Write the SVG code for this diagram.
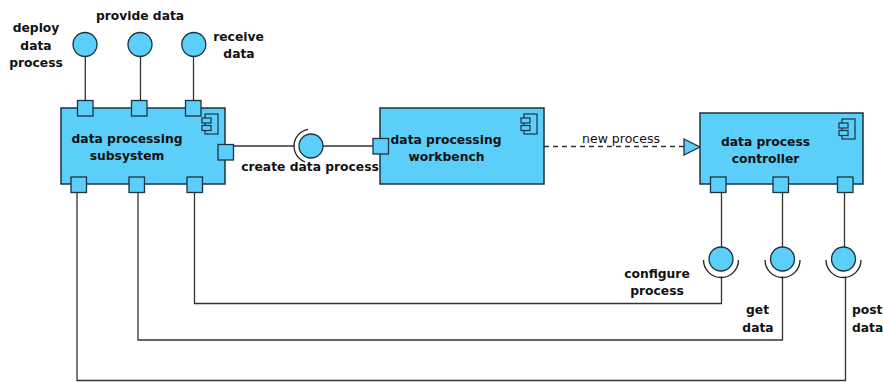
<svg xmlns="http://www.w3.org/2000/svg" width="883" height="382" viewBox="0 0 883 382">
<style>
.box{fill:#5bcefa;stroke:#1c3340;stroke-width:1.5}
.port{fill:#5bcefa;stroke:#1c3340;stroke-width:1.3}
.ico{fill:#5bcefa;stroke:#1c3340;stroke-width:1.2}
.ball{fill:#5bcefa;stroke:#1c3340;stroke-width:1.3}
.sock{fill:none;stroke:#222;stroke-width:1.3}
.ln{fill:none;stroke:#333;stroke-width:1.3}
.t{font-family:"DejaVu Sans",Verdana,sans-serif;font-size:12.3px;font-weight:bold;fill:#111;text-anchor:middle}
.n{font-family:"DejaVu Sans",Verdana,sans-serif;font-size:12.5px;fill:#111;text-anchor:middle}
</style>
<defs>
<g id="icon">
<rect class="ico" x="3" y="0" width="13" height="20"/>
<rect class="ico" x="0" y="4" width="9" height="5"/>
<rect class="ico" x="0" y="11.5" width="9" height="5"/>
</g>
</defs>
<g id="connectors">
<line class="ln" x1="85.3" y1="56.5" x2="85.3" y2="100"/>
<line class="ln" x1="140.5" y1="56.5" x2="140.5" y2="100"/>
<line class="ln" x1="193.5" y1="56.5" x2="193.5" y2="100"/>
<line class="ln" x1="233" y1="146" x2="294" y2="146"/>
<line class="ln" x1="323" y1="146" x2="373" y2="146"/>
<path class="ln" d="M544,146.5 H684" stroke-dasharray="5,4"/>
<polygon points="684,139 700,147 684,155" fill="#5bcefa" stroke="#1c3340" stroke-width="1.3"/>
<text class="n" x="621" y="143">new process</text>
<line class="ln" x1="721.5" y1="193" x2="721.5" y2="247"/>
<line class="ln" x1="782.5" y1="193" x2="782.5" y2="247"/>
<line class="ln" x1="844.5" y1="193" x2="844.5" y2="247"/>
<path class="ln" d="M194.5,193 V303.5 H721.5 V276.5"/>
<path class="ln" d="M138,193 V340 H782.5 V276.5"/>
<path class="ln" d="M77,193 V380.5 H845.5 V276.5"/>
</g>
<g id="deploy-data-process">
<circle class="ball" cx="85" cy="44.5" r="12"/>
<text class="t" x="36" y="32">deploy</text>
<text class="t" x="36" y="49.5">data</text>
<text class="t" x="36" y="66.5">process</text>
</g>
<g id="provide-data">
<circle class="ball" cx="140" cy="44.5" r="12"/>
<text class="t" x="140" y="20">provide data</text>
</g>
<g id="receive-data">
<circle class="ball" cx="193.8" cy="44.5" r="12"/>
<text class="t" x="238.5" y="41">receive</text>
<text class="t" x="239" y="58.3">data</text>
</g>
<g id="data-processing-subsystem">
<rect class="box" x="61" y="108" width="164" height="76"/>
<use href="#icon" x="202" y="114"/>
<rect class="port" x="77.5" y="100.5" width="15.5" height="15.5"/>
<rect class="port" x="131.5" y="100.5" width="15.5" height="15.5"/>
<rect class="port" x="185.5" y="100.5" width="15.5" height="15.5"/>
<rect class="port" x="218" y="144.5" width="15.5" height="15.5"/>
<rect class="port" x="71" y="177" width="15.5" height="15.5"/>
<rect class="port" x="129" y="177" width="15.5" height="15.5"/>
<rect class="port" x="187" y="177" width="15.5" height="15.5"/>
<text class="t" x="127" y="143.3">data processing</text>
<text class="t" x="127" y="160">subsystem</text>
</g>
<g id="create-data-process">
<path class="sock" d="M308,129.3 A17 17 0 0 0 305.2,162"/>
<circle class="ball" cx="311" cy="146" r="12"/>
<text class="t" x="310" y="171">create data process</text>
</g>
<g id="data-processing-workbench">
<rect class="box" x="380" y="108" width="164" height="76"/>
<use href="#icon" x="521" y="114"/>
<rect class="port" x="373" y="138.5" width="15.5" height="15.5"/>
<text class="t" x="446" y="144">data processing</text>
<text class="t" x="446.5" y="161">workbench</text>
</g>
<g id="data-process-controller">
<rect class="box" x="700" y="113" width="163" height="71"/>
<use href="#icon" x="839" y="119"/>
<rect class="port" x="710.5" y="177" width="15.5" height="15.5"/>
<rect class="port" x="773" y="177" width="15.5" height="15.5"/>
<rect class="port" x="837.5" y="177" width="15.5" height="15.5"/>
<text class="t" x="765.5" y="146">data process</text>
<text class="t" x="765.5" y="163">controller</text>
</g>
<g id="configure-process">
<path class="sock" d="M703.5,260 A17.5 17.5 0 0 0 738.5,260"/>
<circle class="ball" cx="721" cy="259" r="12"/>
<text class="t" x="657" y="278">configure</text>
<text class="t" x="657" y="294.5">process</text>
</g>
<g id="get-data">
<path class="sock" d="M765,260 A17.5 17.5 0 0 0 800,260"/>
<circle class="ball" cx="782.5" cy="259" r="12"/>
<text class="t" x="757.5" y="314.3">get</text>
<text class="t" x="758" y="331.5">data</text>
</g>
<g id="post-data">
<path class="sock" d="M826,260 A17.5 17.5 0 0 0 861,260"/>
<circle class="ball" cx="843.5" cy="259" r="12"/>
<text class="t" x="852" y="314.3" style="text-anchor:start">post</text>
<text class="t" x="852" y="331.5" style="text-anchor:start">data</text>
</g>
</svg>
